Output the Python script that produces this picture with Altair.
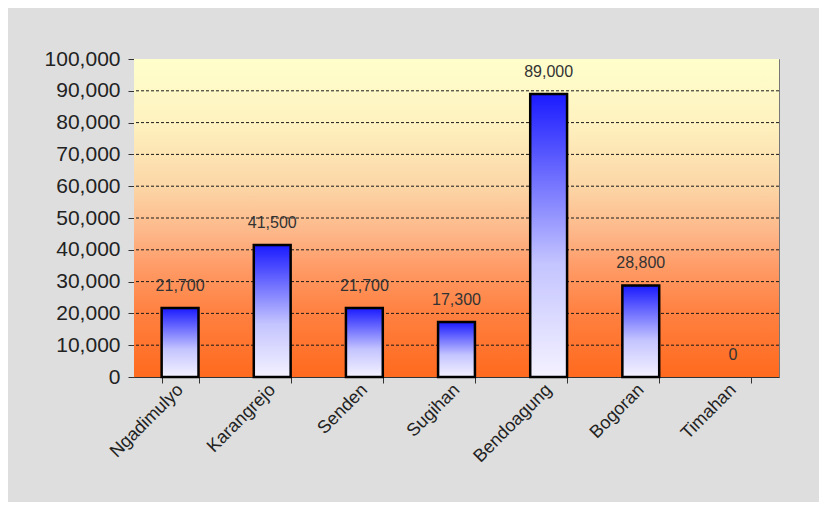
import altair as alt
import pandas as pd

categories = ["Ngadimulyo", "Karangrejo", "Senden", "Sugihan", "Bendoagung", "Bogoran", "Timahan"]
values = [21700, 41500, 21700, 17300, 89000, 28800, 0]
y_ticks = [0, 10000, 20000, 30000, 40000, 50000, 60000, 70000, 80000, 90000, 100000]
grid_values = [10000, 20000, 30000, 40000, 50000, 60000, 70000, 80000, 90000]

df = pd.DataFrame({"desa": categories, "nilai": values})
grid_df = pd.DataFrame({"v": grid_values})

FONT = "Liberation Sans"

x_enc = alt.X(
    "desa:N",
    sort=categories,
    scale=alt.Scale(paddingInner=0.6, paddingOuter=0.3),
    axis=alt.Axis(
        title=None,
        labelAngle=-45,
        labelAlign="right",
        labelBaseline="middle",
        labelFontSize=18,
        labelFont=FONT,
        labelColor="#222222",
        labelPadding=4,
        tickBand="extent",
        tickSize=6,
        tickColor="#333333",
        domainColor="#333333",
        grid=False,
    ),
)

y_scale = alt.Scale(domain=[0, 100000], nice=False)
y_axis = alt.Axis(
    title=None,
    values=y_ticks,
    format=",d",
    labelFontSize=21,
    labelFont=FONT,
    labelColor="#222222",
    labelPadding=8,
    tickSize=6,
    tickColor="#333333",
    domainColor="#333333",
    grid=False,
)

bg = alt.Chart(alt.Data(values=[{"a": 1}])).mark_rect(
    fill=alt.LinearGradient(
        gradient="linear",
        x1=0, x2=0, y1=0, y2=1,
        stops=[
            alt.GradientStop(color="#FFFFCC", offset=0),
            alt.GradientStop(color="#FEF2C0", offset=0.2),
            alt.GradientStop(color="#FCD6A6", offset=0.4),
            alt.GradientStop(color="#FDB688", offset=0.55),
            alt.GradientStop(color="#FF9C68", offset=0.65),
            alt.GradientStop(color="#FF8040", offset=0.8),
            alt.GradientStop(color="#FF6A1E", offset=1),
        ],
    ),
).encode(
    x=alt.value(0), x2=alt.value("width"), y=alt.value(0), y2=alt.value("height")
)

grid = alt.Chart(grid_df).mark_rule(
    color="#1A1A1A", strokeWidth=1, strokeDash=[3, 2]
).encode(y=alt.Y("v:Q", scale=y_scale, axis=y_axis))

bars = alt.Chart(df).transform_filter(alt.datum.nilai > 0).mark_bar(
    color=alt.LinearGradient(
        gradient="linear",
        x1=0, x2=0, y1=0, y2=1,
        stops=[
            alt.GradientStop(color="#1A1AFF", offset=0),
            alt.GradientStop(color="#7070FF", offset=0.3),
            alt.GradientStop(color="#C4C4FF", offset=0.6),
            alt.GradientStop(color="#F4F2FF", offset=1),
        ],
    ),
    stroke="#000000",
    strokeWidth=2.5,
).encode(x=x_enc, y=alt.Y("nilai:Q", scale=y_scale, axis=y_axis))

labels = alt.Chart(df).mark_text(
    dy=-22, fontSize=16, font=FONT, color="#333333", baseline="middle"
).encode(
    x=x_enc,
    y=alt.Y("nilai:Q", scale=y_scale, axis=y_axis),
    text=alt.Text("nilai:Q", format=",d"),
)

chart = alt.layer(bg, grid, bars, labels).properties(
    width=645,
    height=318,
    autosize=alt.AutoSizeParams(type="none"),
    padding={"left": 126, "top": 51, "right": 40, "bottom": 125},
    background="#DEDEDE",
).configure_view(stroke="#777777", strokeWidth=1)

chart.save("out.html", embed_options={"renderer": "svg", "actions": False})
